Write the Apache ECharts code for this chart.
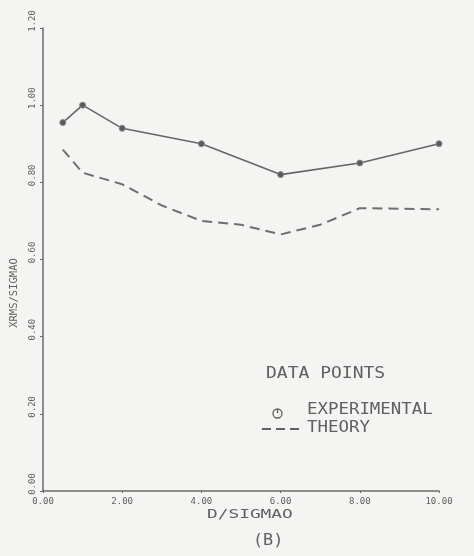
<!DOCTYPE html>
<html>
<head>
<meta charset="utf-8">
<title>XRMS/SIGMAO vs D/SIGMAO</title>
<script src="https://cdn.jsdelivr.net/npm/echarts@6/dist/echarts.min.js"></script>
<style>
  html, body { margin: 0; padding: 0; background: #f4f4f2; }
  #chart { width: 474px; height: 556px; }
</style>
</head>
<body>
<div id="chart"></div>
<script>
// Normalised separation (D/SIGMAO) and RMS response (XRMS/SIGMAO)
const distance = [0.5, 1.0, 2.0, 4.0, 6.0, 8.0, 10.0];
const experimental = [0.955, 1.00, 0.94, 0.90, 0.82, 0.85, 0.90];
const theoryDistance = [0.5, 1.0, 2.0, 3.0, 4.0, 5.0, 6.0, 7.0, 8.0, 10.0];
const theory = [0.885, 0.825, 0.795, 0.74, 0.70, 0.69, 0.665, 0.69, 0.733, 0.73];
const xTicks = { min: 0, max: 10, step: 2 };
const yTicks = { min: 0, max: 1.2, step: 0.2 };

const ink = '#606060';
const mono = '"DejaVu Sans Mono", "Liberation Mono", monospace';

const chart = echarts.init(document.getElementById('chart'));

const pairs = (xs, ys) => xs.map((x, i) => [x, ys[i]]);

chart.setOption({
  backgroundColor: '#f4f4f2',
  animation: false,
  grid: { left: 43, right: 35, top: 28, bottom: 65 },
  xAxis: {
    type: 'value',
    min: xTicks.min,
    max: xTicks.max,
    interval: xTicks.step,
    splitLine: { show: false },
    axisLine: { lineStyle: { color: '#6a6a6a', width: 1.5 } },
    axisTick: { show: true, length: 2, lineStyle: { color: '#6a6a6a' } },
    axisLabel: {
      margin: 6,
      color: ink,
      fontFamily: mono,
      fontSize: 9,
      formatter: v => v.toFixed(2)
    }
  },
  yAxis: {
    type: 'value',
    min: yTicks.min,
    max: yTicks.max,
    interval: yTicks.step,
    splitLine: { show: false },
    axisLine: { show: true, lineStyle: { color: '#6a6a6a', width: 1.5 } },
    axisTick: { show: true, length: 3, lineStyle: { color: '#6a6a6a' } },
    axisLabel: {
      rotate: 90,
      margin: 6,
      color: ink,
      fontFamily: mono,
      fontSize: 9,
      padding: [0, 0, 0, 14],
      formatter: v => v.toFixed(2)
    },
    name: 'XRMS/SIGMAO',
    nameLocation: 'middle',
    nameRotate: 90,
    nameGap: 19,
    nameTextStyle: {
      color: ink,
      fontFamily: mono,
      fontSize: 10.5,
      padding: [0, 67, 0, 0]
    }
  },
  series: [
    {
      name: 'EXPERIMENTAL',
      type: 'line',
      data: pairs(distance, experimental),
      symbol: 'circle',
      symbolSize: 6,
      lineStyle: { color: '#666', width: 1.6 },
      itemStyle: { color: '#5a5a5a', borderColor: '#888', borderWidth: 1 },
      z: 3
    },
    {
      name: 'THEORY',
      type: 'line',
      data: pairs(theoryDistance, theory),
      symbol: 'none',
      lineStyle: { color: '#6e6e6e', width: 2, type: [10, 6] },
      z: 2
    }
  ],
  graphic: [
    {
      type: 'text', x: 207, y: 508, scaleX: 1.37,
      style: { text: 'D/SIGMAO', font: '13px ' + mono, fill: ink }
    },
    {
      type: 'text', x: 253, y: 533, scaleX: 1.05,
      style: { text: '(B)', font: '16px ' + mono, fill: ink }
    },
    {
      type: 'text', x: 266, y: 367, scaleX: 1.2,
      style: { text: 'DATA POINTS', font: '15px ' + mono, fill: ink }
    },
    {
      type: 'circle', shape: { cx: 277.5, cy: 413.5, r: 4.5 },
      style: { fill: 'none', stroke: ink, lineWidth: 1.3 }
    },
    {
      type: 'line', shape: { x1: 277.5, y1: 409, x2: 277.5, y2: 413 },
      style: { stroke: ink, lineWidth: 1.3 }
    },
    {
      type: 'text', x: 307, y: 403, scaleX: 1.16,
      style: { text: 'EXPERIMENTAL', font: '15px ' + mono, fill: ink }
    },
    {
      type: 'line', shape: { x1: 262, y1: 429, x2: 303, y2: 429 },
      style: { stroke: ink, lineWidth: 2, lineDash: [9, 5] }
    },
    {
      type: 'text', x: 307, y: 421, scaleX: 1.16,
      style: { text: 'THEORY', font: '15px ' + mono, fill: ink }
    }
  ]
});
</script>
</body>
</html>
